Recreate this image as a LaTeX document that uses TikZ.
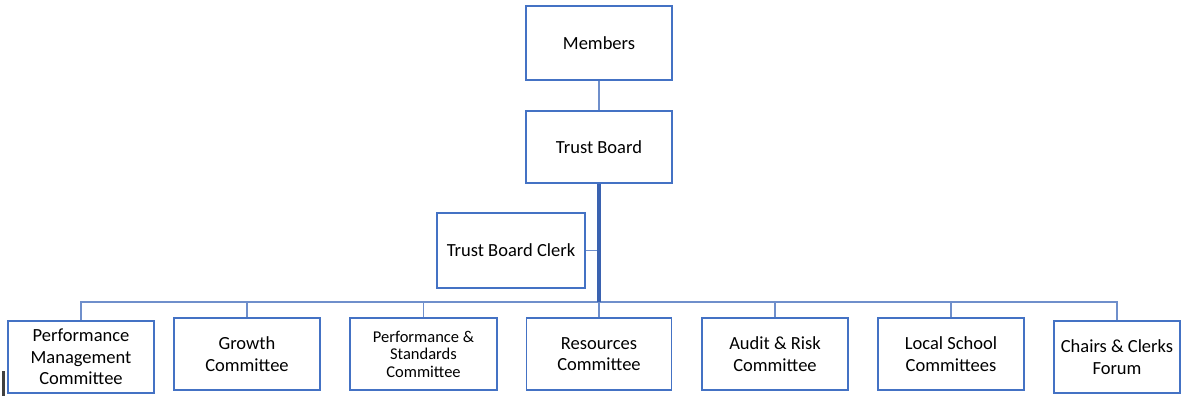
\documentclass[tikz,border=0pt]{standalone}
\usepackage{fontspec}
\setmainfont{Carlito}
\definecolor{boxblue}{HTML}{4472C4}
\definecolor{lineblue}{HTML}{6F8FCB}
\definecolor{trunkblue}{HTML}{3A62B0}
\begin{document}
\begin{tikzpicture}[x=1pt,y=-1pt,
  orgbox/.style={draw=boxblue,line width=1.6pt,fill=white,inner sep=0pt,align=center,font=\fontsize{18.5}{21.5}\selectfont},
  conn/.style={draw=lineblue,line width=1.4pt},
  trunk/.style={draw=trunkblue,line width=3.4pt}]
\useasboundingbox (0,0) rectangle (1181,398);
\node[orgbox,minimum width=146pt,minimum height=74pt] (mem) at (599,43) {Members};
\node[orgbox,minimum width=146pt,minimum height=72pt] (tb) at (599,147) {Trust Board};
\node[orgbox,minimum width=148pt,minimum height=75pt] (clerk) at (511,250.5) {Trust Board Clerk};
\node[orgbox,minimum width=146pt,minimum height=72pt] (pm) at (81,357) {Performance\\Management\\Committee};
\node[orgbox,minimum width=146pt,minimum height=72pt] (gr) at (247,354) {Growth\\Committee};
\node[orgbox,minimum width=147pt,minimum height=72pt,font=\fontsize{16.5}{17.5}\selectfont] (ps) at (423.5,354) {Performance \&\\Standards\\Committee};
\node[orgbox,minimum width=145pt,minimum height=72pt] (res) at (599,354) {Resources\\Committee};
\node[orgbox,minimum width=146pt,minimum height=72pt] (ar) at (775,354) {Audit \& Risk\\Committee};
\node[orgbox,minimum width=146pt,minimum height=72pt] (ls) at (951,354) {Local School\\Committees};
\node[orgbox,minimum width=126pt,minimum height=72pt] (cc) at (1117,357) {Chairs \& Clerks\\Forum};
\coordinate (bus) at (599,302);
\draw[conn] (mem) -- (tb);
\foreach \n in {pm,gr,ps,res,ar,ls,cc}
  \draw[conn] (\n.north) |- (bus);
\draw[conn] (clerk.east) -- (599,250.5);
\draw[trunk] (tb.south) -- (bus);
\fill[black!75] (2,371) rectangle (5,396);
\end{tikzpicture}
\end{document}
